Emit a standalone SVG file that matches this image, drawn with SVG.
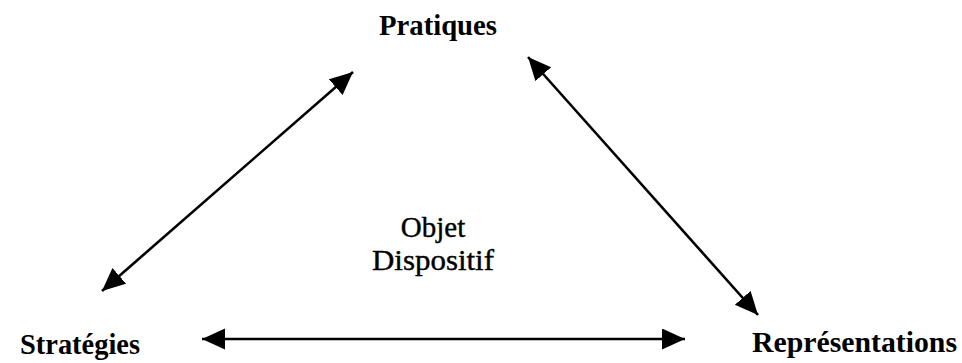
<svg xmlns="http://www.w3.org/2000/svg" width="962" height="363" viewBox="0 0 962 363">
<style>
.lbl{font-family:"Liberation Serif","Times New Roman",serif;font-weight:bold;font-size:29px;fill:#000}
.mid{font-family:"Liberation Serif","Times New Roman",serif;font-size:29px;fill:#000;stroke:#000;stroke-width:0.4;text-anchor:middle}
.con{stroke:#000;stroke-width:2.6;fill:none;marker-start:url(#ah);marker-end:url(#ah)}
</style>
<defs>
<marker id="ah" markerUnits="userSpaceOnUse" markerWidth="24" markerHeight="22" refX="23" refY="10.5" orient="auto-start-reverse" viewBox="0 0 24 22">
<path d="M0,0 L23,10.5 L0,21 Z" fill="#000"/>
</marker>
</defs>
<rect width="962" height="363" fill="#fff"/>
<g id="connectors">
<line class="con" x1="102" y1="291" x2="353" y2="72"/>
<line class="con" x1="528" y1="57" x2="758" y2="315"/>
<line class="con" x1="202" y1="339" x2="685" y2="339"/>
</g>
<g id="pratiques"><text class="lbl" x="379" y="35" textLength="118" lengthAdjust="spacingAndGlyphs">Pratiques</text></g>
<g id="strategies"><text class="lbl" x="20" y="354" textLength="120" lengthAdjust="spacingAndGlyphs">Stratégies</text></g>
<g id="representations"><text class="lbl" x="752" y="352" textLength="205" lengthAdjust="spacingAndGlyphs">Représentations</text></g>
<g id="centre">
<text class="mid" x="433" y="237">Objet</text>
<text class="mid" x="433" y="270" textLength="122" lengthAdjust="spacingAndGlyphs">Dispositif</text>
</g>
</svg>
